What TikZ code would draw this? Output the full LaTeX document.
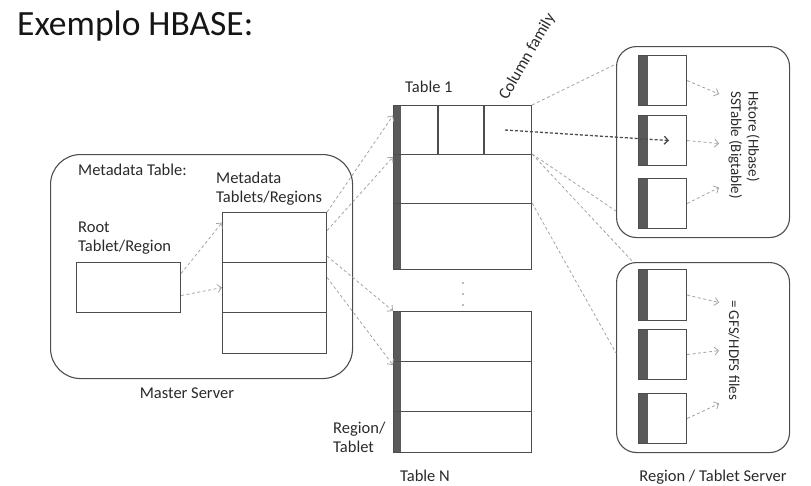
\documentclass[tikz,border=0pt]{standalone}
\usepackage{fontspec}
\setmainfont{Carlito}
\usetikzlibrary{arrows.meta}
\definecolor{boxgray}{HTML}{4D4D4D}
\definecolor{bargray}{HTML}{5A5A5A}
\definecolor{linkgray}{HTML}{A3A3A3}
\definecolor{txtgray}{HTML}{2A2A2A}
\definecolor{titlegray}{HTML}{151515}
\newcommand{\lblfont}{\fontsize{16.5}{19}\selectfont}
\newcommand{\srvfont}{\fontsize{15}{17.5}\selectfont}
\tikzset{
  box/.style={draw=boxgray, line width=1.1pt, anchor=north west, inner sep=0pt},
  region/.style={box, minimum width=138pt, path picture={\fill[bargray] (path picture bounding box.north west) rectangle ([xshift=7pt]path picture bounding box.south west);}},
  sstable/.style={box, minimum width=48pt, minimum height=50pt, path picture={\fill[bargray] (path picture bounding box.north west) rectangle ([xshift=9pt]path picture bounding box.south west);}},
  server/.style={box, rounded corners=20pt},
  boxline/.style={draw=boxgray, line width=1.1pt},
  link/.style={draw=linkgray, dash pattern=on 3pt off 2.5pt, line width=0.8pt},
  arr/.style={link, -{Straight Barb[length=4pt,width=8pt]}},
  darr/.style={draw=boxgray, dash pattern=on 3pt off 2pt, line width=1.3pt, -{Straight Barb[length=4pt,width=8pt]}},
  lbl/.style={text=txtgray, font=\lblfont, inner sep=0pt}
}
\begin{document}
\begin{tikzpicture}[x=1pt,y=-1pt]
\useasboundingbox (0,0) rectangle (811,485);
\node[anchor=base west, inner sep=0pt, text=titlegray, font=\fontsize{35.5}{40}\selectfont] (title) at (17,35) {Exemplo HBASE:};

% Master Server
\node[box, rounded corners=30pt, minimum width=302pt, minimum height=224pt] (master) at (50,154) {};
\node[lbl, anchor=base west] (mdtab) at (78,175) {Metadata Table:};
\node[lbl, anchor=north west, align=left] (mdlbl) at (216,172) {Metadata\\Tablets/Regions};
\node[lbl, anchor=north west, align=left] (rootlbl) at (78,222) {Root\\Tablet/Region};
\node[box, minimum width=104pt, minimum height=50pt] (root) at (76,262) {};
\node[box, minimum width=104pt, minimum height=50pt] (meta1) at (222,212) {};
\node[box, minimum width=104pt, minimum height=50pt] (meta2) at (222,262) {};
\node[box, minimum width=104pt, minimum height=41pt] (meta3) at (222,312) {};
\node[lbl, anchor=base] (mslbl) at (187,398) {Master Server};

% Table 1
\node[region, minimum height=49pt] (t1a) at (393,105) {};
\node[region, minimum height=49pt] (t1b) at (393,154) {};
\node[region, minimum height=66pt] (t1c) at (393,203) {};
\draw[boxline] (438,105) -- (438,154);   % column families
\draw[boxline] (484,105) -- (484,154);
\coordinate (cfam) at (505,130);
\node[lbl, anchor=base west] (t1lbl) at (405,92) {Table 1};
\node[lbl, anchor=base west, rotate=60] (cflbl) at (507,101) {Column family};

% Table N
\foreach \y in {283,294,305} \fill[linkgray] (463,\y) circle (1.1pt);
\node[region, minimum height=50pt] (tNa) at (393,311) {};
\node[region, minimum height=50pt] (tNb) at (393,361) {};
\node[region, minimum height=41pt] (tNc) at (393,411) {};
\node[lbl, anchor=north west, align=left] (rtlbl) at (333,422) {Region/\\Tablet};
\node[lbl, anchor=base] (tNlbl) at (425,481) {Table N};

% Region / Tablet servers
\node[server, minimum width=173pt, minimum height=191pt] (srvA) at (616,46) {};
\node[server, minimum width=173pt, minimum height=190pt] (srvB) at (616,262) {};
\node[sstable] (a1) at (638,55) {};
\node[sstable] (a2) at (638,115) {};
\node[sstable] (a3) at (638,178) {};
\node[sstable, minimum height=51pt] (b1) at (638,269) {};
\node[sstable] (b2) at (638,329) {};
\node[sstable] (b3) at (638,393) {};
\node[lbl, font=\srvfont, rotate=-90, align=left] (hstore) at (744,145) {Hstore (Hbase)\\SSTable (Bigtable)};
\node[lbl, font=\srvfont, rotate=-90] (gfs) at (734,350) {= GFS/HDFS files};
\node[lbl, anchor=base] (srvlbl) at (713,481) {Region / Tablet Server};

% connectors
\draw[arr] ([yshift=14pt]root.east) -- ([yshift=15pt]meta1.west);
\draw[arr] ([yshift=-8pt]root.east) -- (meta2.west);
\draw[arr] (meta1.north east) -- ([yshift=14.5pt]t1a.west);
\draw[arr] ([yshift=7pt]meta1.east) -- ([yshift=-3pt]t1b.north west);
\draw[arr] ([yshift=7pt]meta1.south east) -- (tNa.north west);
\draw[arr] ([yshift=10pt]meta2.east) -- ([yshift=-4pt]tNb.north west);
\draw[link] (t1a.north east) -- ([yshift=-18pt]srvA.north west);
\draw[link] (t1b.north east) -- ([yshift=27pt]srvA.south west);
\draw[link] (t1b.north east) -- ([xshift=17pt]srvB.north west);
\draw[link] (t1c.north east) -- ([yshift=-91pt]srvB.north west);
\draw[darr] (cfam) -- ([xshift=-18pt]a2.east);
\draw[arr] (a1.east) -- ([shift={(32,13.5)}]a1.east);
\draw[arr] (a2.east) -- ([shift={(32,3)}]a2.east);
\draw[arr] (a3.east) -- ([shift={(32,-16)}]a3.east);
\draw[arr] (b1.east) -- ([shift={(32,7.5)}]b1.east);
\draw[arr] (b2.east) -- ([shift={(32,-4)}]b2.east);
\draw[arr] (b3.east) -- ([shift={(32,-15)}]b3.east);
\end{tikzpicture}
\end{document}
